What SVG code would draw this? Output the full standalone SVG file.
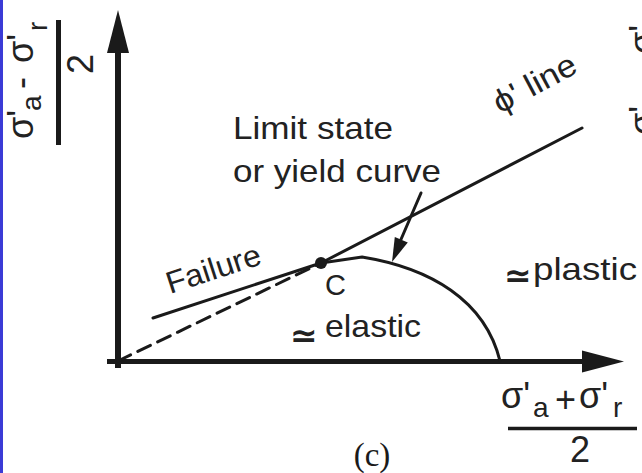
<svg xmlns="http://www.w3.org/2000/svg" width="642" height="473" viewBox="0 0 642 473">
<defs>
<style>
.t{font-family:"Liberation Sans","DejaVu Sans",Arial,sans-serif;fill:#222;}
.m{font-family:"Liberation Sans","DejaVu Sans",Arial,sans-serif;fill:#222;font-size:36px;}
.s{font-family:"Liberation Sans","DejaVu Sans",Arial,sans-serif;fill:#222;font-size:28px;}
.eq{font-family:"DejaVu Sans",sans-serif;fill:#222;font-size:33px;font-weight:bold;}
.ax{stroke:#1a1a1a;fill:none;}
.ln{stroke:#1a1a1a;stroke-width:3;fill:none;stroke-linecap:round;}
.ah{fill:#1a1a1a;stroke:none;}
</style>
</defs>
<rect x="0" y="0" width="642" height="473" fill="#ffffff"/>
<rect x="0" y="0" width="3" height="473" fill="#3b3bd6"/>

<g id="axes">
<line class="ax" x1="118" y1="368" x2="118" y2="48" stroke-width="6"/>
<polygon class="ah" points="118,10 129,53 107,53"/>
<line class="ax" x1="107" y1="361.5" x2="588" y2="361.5" stroke-width="5"/>
<polygon class="ah" points="624,361.5 582,350.5 582,372.5"/>
</g>

<g id="y-label">
<text class="m" transform="translate(33,139) rotate(-90)">σ'</text>
<text class="s" transform="translate(41,111) rotate(-90)">a</text>
<text class="m" transform="translate(33,89) rotate(-90)">-</text>
<text class="m" transform="translate(33,63) rotate(-90)">σ'</text>
<text class="s" transform="translate(47,31) rotate(-90)">r</text>
<line x1="58.5" y1="20" x2="58.5" y2="145" stroke="#1a1a1a" stroke-width="5"/>
<text class="m" transform="translate(93,74) rotate(-90)">2</text>
</g>

<g id="x-label">
<text class="m" x="501" y="408">σ'</text>
<text class="s" x="533" y="417">a</text>
<text class="m" x="555" y="412">+</text>
<text class="m" x="579" y="408">σ'</text>
<text class="s" x="613" y="417">r</text>
<line x1="508" y1="428.5" x2="637" y2="428.5" stroke="#1a1a1a" stroke-width="3.5"/>
<text class="m" x="570" y="462">2</text>
</g>

<g id="partial-label">
<text class="m" transform="translate(655,135) rotate(-90)">σ'</text>
<text class="m" transform="translate(655,85) rotate(-90)">-</text>
<text class="m" transform="translate(655,54) rotate(-90)">σ'</text>
</g>

<g id="connectors">
<line class="ln" x1="118" y1="361" x2="321" y2="263" stroke-dasharray="14 8" stroke-linecap="butt"/>
<line class="ln" x1="153" y1="318" x2="321" y2="263"/>
<line class="ln" x1="321" y1="263" x2="582" y2="128"/>
<path class="ln" d="M321,263 L362,257 C430,268 485,300 500,361"/>
<line class="ln" x1="421" y1="193" x2="399" y2="244"/>
<polygon class="ah" points="392,262 407.8,242.5 394.8,237.1"/>
</g>

<g id="point-C">
<circle cx="321" cy="263" r="6" fill="#1a1a1a"/>
<text class="t" x="325" y="295" font-size="29">C</text>
</g>

<g id="label-limit">
<text class="t" x="233" y="139" font-size="32" textLength="160" lengthAdjust="spacingAndGlyphs">Limit state</text>
<text class="t" x="233" y="182" font-size="32" textLength="208" lengthAdjust="spacingAndGlyphs">or yield curve</text>
</g>

<g id="label-phi">
<text class="t" transform="translate(500,114) rotate(-28)" font-size="32" textLength="90" lengthAdjust="spacingAndGlyphs">ϕ' line</text>
</g>

<g id="label-failure">
<text class="t" transform="translate(170,294) rotate(-18)" font-size="31" textLength="98" lengthAdjust="spacingAndGlyphs">Failure</text>
</g>

<g id="label-elastic">
<text class="eq" x="290" y="347">≃</text>
<text class="t" x="325" y="337" font-size="32" textLength="96" lengthAdjust="spacingAndGlyphs">elastic</text>
</g>

<g id="label-plastic">
<text class="eq" x="504" y="287">≃</text>
<text class="t" x="533" y="280" font-size="32" textLength="104" lengthAdjust="spacingAndGlyphs">plastic</text>
</g>

<g id="caption">
<text x="372" y="466" font-family="'Liberation Serif','DejaVu Serif',serif" font-size="33" text-anchor="middle" fill="#1a1a1a">(c)</text>
</g>
</svg>
